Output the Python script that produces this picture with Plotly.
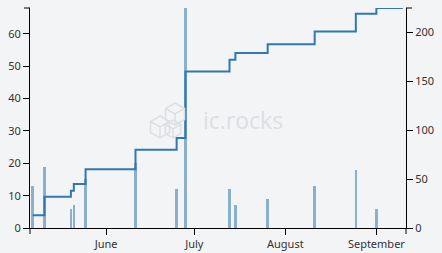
import numpy as np
import plotly.graph_objects as go

# ---- data ----
dates = ["2021-05-07", "2021-05-11", "2021-05-20", "2021-05-21", "2021-05-25",
         "2021-06-11", "2021-06-25", "2021-06-28", "2021-07-13", "2021-07-15",
         "2021-07-26", "2021-08-11", "2021-08-25", "2021-09-01"]
counts = [13, 19, 6, 7, 15, 20, 12, 68, 12, 7, 9, 13, 18, 6]
line_end = "2021-09-10"
x_range = ["2021-05-06 02:00", "2021-09-11 02:00"]
left_ticks = [0, 10, 20, 30, 40, 50, 60]
right_ticks = [0, 50, 100, 150, 200]
left_max = 68
right_max = 225

cum = np.cumsum(counts)
line_x = dates + [line_end]
line_y = list(cum) + [int(cum[-1])]

W, H = 442, 253
ML, MR, MT, MB = 30, 36, 8, 25
PW, PH = W - ML - MR, H - MT - MB


def px(x):
    return (x - ML) / PW


def py(y):
    return (H - MB - y) / PH


BG = "#f3f4f6"
FONT = dict(family="Noto Sans, Open Sans, sans-serif", size=11, color="#333")

fig = go.Figure()
fig.add_trace(go.Bar(
    x=dates, y=counts, width=0.9 * 86400000,
    marker=dict(color="rgba(70,130,180,0.6)", line=dict(width=0)),
    yaxis="y", showlegend=False,
))
fig.add_trace(go.Scatter(
    x=line_x, y=line_y, mode="lines", line=dict(shape="hv", color="#2f78b4", width=2),
    yaxis="y2", showlegend=False, cliponaxis=False,
))

# watermark
shapes = []
wm = "#dcdfe3"


def path(pts, close=True):
    s = "M " + " L ".join(f"{px(a):.5f},{py(b):.5f}" for a, b in pts)
    return s + (" Z" if close else "")


def cube(cx, cy, r):
    h = r * 0.866
    pts = [(cx, cy - r), (cx + h, cy - r / 2), (cx + h, cy + r / 2), (cx, cy + r),
           (cx - h, cy + r / 2), (cx - h, cy - r / 2)]
    out = [dict(type="path", xref="paper", yref="paper", path=path(pts),
                line=dict(color=wm, width=1.5))]
    out.append(dict(type="path", xref="paper", yref="paper",
                    path=path([(cx - h, cy - r / 2), (cx, cy), (cx + h, cy - r / 2)], False),
                    line=dict(color=wm, width=1.5)))
    out.append(dict(type="path", xref="paper", yref="paper",
                    path=path([(cx, cy), (cx, cy + r)], False),
                    line=dict(color=wm, width=1.5)))
    return out


shapes += cube(175, 114, 11)
shapes += cube(160, 127, 11)
shapes += cube(173, 129, 9)

# outer ticks of axes (d3-style)
k = dict(type="line", xref="paper", yref="paper", line=dict(color="black", width=1))
shapes += [
    dict(k, x0=0, x1=0, y0=0, y1=-6 / PH),
    dict(k, x0=1, x1=1, y0=0, y1=-6 / PH),
    dict(k, x0=0, x1=-6 / PW, y0=1, y1=1),
    dict(k, x0=1, x1=1 + 6 / PW, y0=1, y1=1),
]

fig.update_layout(
    width=W, height=H,
    margin=dict(l=ML, r=MR, t=MT, b=MB, pad=0, autoexpand=False),
    paper_bgcolor=BG, plot_bgcolor=BG,
    font=FONT,
    bargap=0,
    shapes=shapes,
    annotations=[dict(text="ic.rocks", xref="paper", yref="paper", x=px(243), y=py(120),
                      showarrow=False, font=dict(size=23, color=wm,
                                                 family="Open Sans, sans-serif"))],
    xaxis=dict(type="date", range=x_range, dtick="M1", tick0="2021-05-01",
               tickformat="%B", ticks="outside", ticklen=6, tickcolor="black",
               showline=True, linecolor="black", linewidth=1, showgrid=False,
               zeroline=False, fixedrange=True, automargin=False),
    yaxis=dict(range=[0, left_max], tickvals=left_ticks, ticks="outside", ticklen=6,
               tickcolor="black", showline=True, linecolor="black", linewidth=1,
               showgrid=False, zeroline=False, automargin=False),
    yaxis2=dict(range=[0, right_max], tickvals=right_ticks, overlaying="y", side="right",
                ticks="outside", ticklen=6, tickcolor="black", showline=True,
                linecolor="black", linewidth=1, showgrid=False, zeroline=False,
                automargin=False),
)

fig.write_html("out.html")
